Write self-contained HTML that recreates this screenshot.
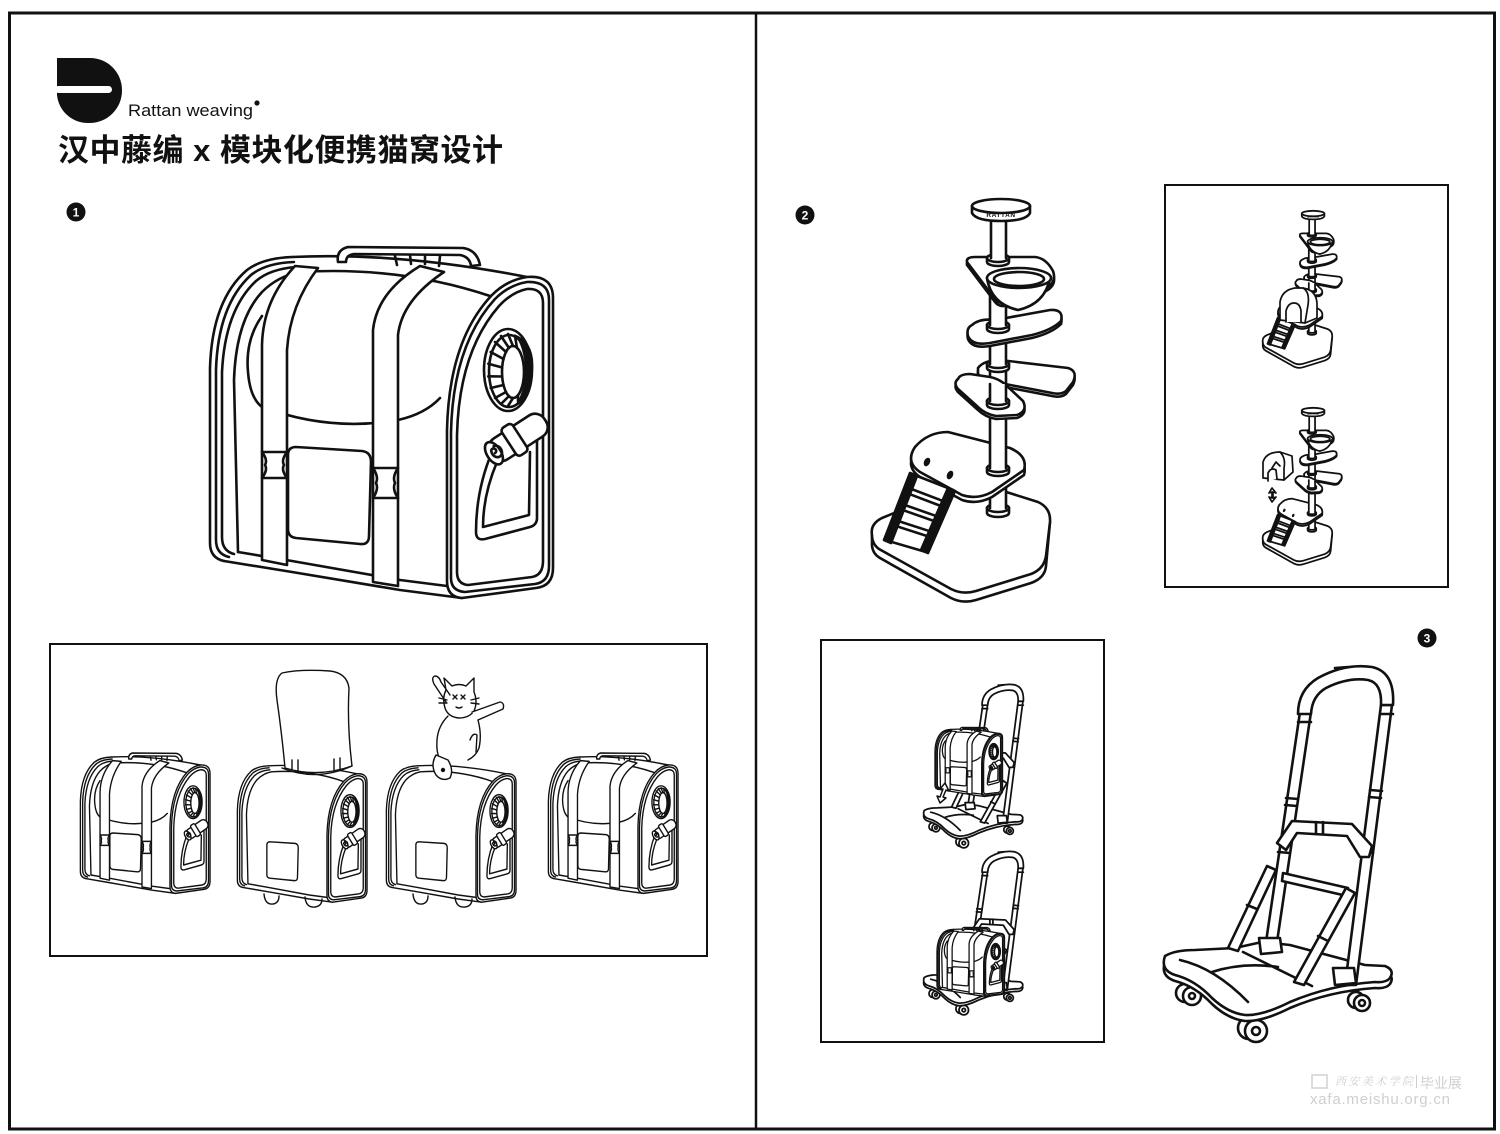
<!DOCTYPE html>
<html><head><meta charset="utf-8"><style>
html,body{margin:0;padding:0;background:#fff;}
svg{display:block;}
</style></head><body>
<svg width="1500" height="1134" viewBox="0 0 1500 1134" xmlns="http://www.w3.org/2000/svg" font-family="'Liberation Sans','Noto Sans CJK SC',sans-serif">
<defs>
<!-- ============ BAG (plain body) ============ -->
<g id="bagPlain" fill="none" stroke="#111" stroke-linejoin="round" stroke-linecap="round">
<path fill="#fff" stroke="none" d="M222,560 Q210,557 210,543 L210,368 Q212,300 247,270 Q263,258 292,257 Q400,253 527,277 Q553,275 553,298 L553,568 Q553,590 536,590 L462,598 Z"/>
<path d="M224,561 Q210,558 210,543 L210,368 Q212,300 247,270 Q263,258 292,257"/>
<path d="M229,557 Q216,554 216,540 L216,370 Q218,305 251,275 Q266,263 294,262"/>
<path d="M234,554 Q222,551 222,537 L222,372 Q225,310 256,281 Q270,269 296,267"/>
<path d="M238,552 L234,380 Q236,320 262,292 Q278,276 300,272"/>
<path d="M224,561 L292,572 L400,590 L462,598"/>
<path d="M238,552 L292,561 L400,580 L447,586"/>
<path d="M292,257 Q400,252 527,277"/>
<path d="M300,272 Q400,266 490,296"/>
<path fill="#fff" d="M462,598 Q447,597 447,581 L447,430 Q449,340 492,295 Q507,280 527,277 Q553,275 553,298 L553,568 Q553,586 536,588 Z"/>
<path d="M465,592 Q451,591 451,578 L451,432 Q453,345 495,299 Q509,285 527,282 Q549,281 549,300 L549,566 Q549,582 535,584 Z"/>
<path d="M468,585 Q457,584 457,572 L457,435 Q459,352 499,306 Q512,292 527,289 Q543,288 543,303 L543,561 Q543,575 532,577 Z"/>
<ellipse cx="508" cy="370" rx="24" ry="41" fill="#fff"/>
<ellipse cx="509" cy="371" rx="20" ry="36"/>
<ellipse cx="513" cy="372" rx="11" ry="26"/>
<path d="M513,398 L508,406 M509,396 L501,404 M506,392 L495,398 M503.5,385 L490.7,388 M502.2,376.5 L488.3,376.3 M502.2,367.5 L488.3,363.7 M503.5,359 L490.7,352 M506,352 L495,342 M509,348 L501,336 M513,346 L508,334 M518,395 L518,401 M517,348 L515,336"/>
<path fill="#111" stroke="none" d="M514,334 Q536,342 533,372 Q531,401 514,407 Q525,392 525,370 Q524,346 514,334 Z"/>
<path d="M492,452 Q476,490 476,532 Q476,541 485,539 L530,527 Q537,525 537,518 L537,440"/>
<path d="M497,462 Q483,495 483,527 L529,515 L530,452"/>
<g transform="rotate(-33 518 437)">
<rect x="486" y="425" width="64" height="25" rx="11" fill="#fff"/>
<ellipse cx="489" cy="437.5" rx="7" ry="12.5" fill="#fff"/>
<path d="M490,438 a2.5,2.5 0 1 0 -2.5,-2.5 a5,6 0 1 0 5,-4"/>
<rect x="507" y="421" width="13" height="33" rx="4" fill="#fff"/>
</g>
<path d="M296,447 L362,451 Q371,452 371,462 L369,536 Q369,545 360,544 L296,538 Q288,537 288,529 L288,455 Q288,447 296,447 Z"/>
</g>
<!-- ============ BAG extras (flap, straps, handle) ============ -->
<g id="bagExtra" fill="none" stroke="#111" stroke-linejoin="round" stroke-linecap="round">
<path fill="#fff" d="M338,262 Q336,250 348,247 L463,248 Q477,250 480,265 L471,266 Q470,257 460,255 L354,254 Q346,255 346,262 Z"/>
<path d="M395,256 L397,265 M410,255 L411,264 M425,255 L425,264 M440,256 L439,266"/>
<path d="M262,316 Q245,340 248,372 Q250,398 262,407 Q330,432 398,420 Q425,414 440,398"/>
<path fill="#fff" d="M262,560 L262,345 Q263,300 295,266 L318,268 Q290,305 287,350 L287,565 Z"/>
<path fill="#fff" d="M373,582 L373,330 Q377,292 420,266 L444,272 Q402,300 398,335 L398,586 Z"/>
<path fill="#fff" d="M262,452 L287,452 Q281,460 284,465 Q281,470 287,478 L262,478 Q268,470 265,465 Q268,460 262,452 Z"/>
<path fill="#fff" d="M373,468 L398,468 Q392,477 395,483 Q392,489 398,498 L373,498 Q379,489 376,483 Q379,477 373,468 Z"/>
</g>
<g id="bagFull"><use href="#bagPlain"/><use href="#bagExtra"/></g>

<!-- ============ CAT TOWER ============ -->
<g id="tower" fill="none" stroke="#111" stroke-linejoin="round" stroke-linecap="round">
<path fill="#fff" d="M872,535 L872,546 Q873,554 880,558 L951,598 Q963,604 976,600 L1031,583 Q1045,578 1046,566 L1050,522 Z"/>
<path fill="#fff" d="M872,535 Q870,524 882,518 L958,487 Q970,482 984,485 L1038,502 Q1051,508 1050,522 L1046,556 Q1044,569 1031,574 L976,591 Q963,595 951,589 L879,549 Q872,544 872,535 Z"/>
<path fill="#fff" d="M987,508 v5 a11,4 0 0 0 22,0 v-5 z"/>
<ellipse cx="998" cy="508" rx="11" ry="4" fill="#fff"/>
<rect x="990" y="466" width="16" height="42" fill="#fff" stroke="none"/>
<path d="M990,508 V466 M1006,508 V466"/>
<path fill="#fff" transform="translate(0,5)" d="M915,447 Q928,432 948,432 L1010,448 Q1028,456 1024,470 L992,492 Q977,500 962,495 L920,472 Q905,462 915,447 Z"/>
<path fill="#fff" d="M915,447 Q928,432 948,432 L1010,448 Q1028,456 1024,470 L992,492 Q977,500 962,495 L920,472 Q905,462 915,447 Z"/>
<ellipse fill="#111" stroke="none" cx="927" cy="462" rx="3" ry="4.5" transform="rotate(25 927 462)"/>
<ellipse fill="#111" stroke="none" cx="950" cy="475" rx="3" ry="4.5" transform="rotate(25 950 475)"/>
<path fill="#fff" d="M987,468 v4 a11,4 0 0 0 22,0 v-4 z"/>
<ellipse cx="998" cy="468" rx="11" ry="4" fill="#fff"/>
<rect x="990" y="403" width="16" height="65" fill="#fff" stroke="none"/>
<path d="M990,468 V403 M1006,468 V403"/>
<!-- ladder -->
<path fill="#fff" d="M912,474 L953,490 L926,552 L885,540 Z"/>
<path fill="#fff" d="M910.1,488.5 L945.1,501.8 L943.5,507 L908.5,493.7 Z"/>
<path fill="#fff" d="M903.4,504.5 L938.4,516.8 L936.8,522 L901.8,509.7 Z"/>
<path fill="#fff" d="M896.6,520.5 L931.6,531.8 L930,537 L895,525.7 Z"/>
<path fill="#111" d="M910,473 L917,476 L891,543 L884,540 Z"/>
<path fill="#111" d="M948,488 L955,491 L928,553 L921,550 Z"/>
<!-- wing + lower piece -->
<path fill="#fff" transform="translate(0,3)" d="M978,368 Q984,360 1000,360 L1068,368 Q1078,371 1073,382 L1066,391 Q1061,395 1052,393 L1000,383 Q983,380 978,374 Z"/>
<path fill="#fff" d="M978,368 Q984,360 1000,360 L1068,368 Q1078,371 1073,382 L1066,391 Q1061,395 1052,393 L1000,383 Q983,380 978,374 Z"/>
<rect x="990" y="364" width="16" height="20" fill="#fff" stroke="none"/>
<path d="M990,384 V364 M1006,384 V364"/>
<path fill="#fff" d="M987,364 v4 a11,4 0 0 0 22,0 v-4 z"/>
<ellipse cx="998" cy="364" rx="11" ry="4" fill="#fff"/>
<path fill="#fff" transform="translate(0,3)" d="M958,379 Q960,374 970,374 L990,377 Q1000,379 1007,386 L1023,401 Q1028,411 1017,415 L996,416 Q985,414 978,407 L958,389 Q953,383 958,379 Z"/>
<path fill="#fff" d="M958,379 Q960,374 970,374 L990,377 Q1000,379 1007,386 L1023,401 Q1028,411 1017,415 L996,416 Q985,414 978,407 L958,389 Q953,383 958,379 Z"/>
<path fill="#fff" d="M987,401 v4 a11,4 0 0 0 22,0 v-4 z"/>
<ellipse cx="998" cy="401" rx="11" ry="4" fill="#fff"/>
<rect x="990" y="384" width="16" height="17" fill="#fff" stroke="none"/>
<path d="M990,401 V384 M1006,401 V384"/>
<rect x="990" y="326" width="16" height="38" fill="#fff" stroke="none"/>
<path d="M990,364 V326 M1006,364 V326"/>
<!-- platform 2 -->
<path fill="#fff" transform="translate(0,3)" d="M972,325 Q980,318 995,320 L1050,310 Q1064,309 1061,321 Q1052,330 1032,335 L990,343 Q972,346 968,336 Q966,328 972,325 Z"/>
<path fill="#fff" d="M972,325 Q980,318 995,320 L1050,310 Q1064,309 1061,321 Q1052,330 1032,335 L990,343 Q972,346 968,336 Q966,328 972,325 Z"/>
<path fill="#fff" d="M987,325 v4 a11,4 0 0 0 22,0 v-4 z"/>
<ellipse cx="998" cy="325" rx="11" ry="4" fill="#fff"/>
<rect x="990" y="260" width="16" height="65" fill="#fff" stroke="none"/>
<path d="M990,325 V260 M1006,325 V260"/>
<!-- bowl platform -->
<path fill="#fff" transform="translate(0,3)" d="M967,262 Q966,257 975,257 L1035,257 Q1046,258 1053,271 Q1057,282 1046,288 L1008,302 Q1000,305 995,299 Z"/>
<path fill="#fff" d="M967,262 Q966,257 975,257 L1035,257 Q1046,258 1053,271 Q1057,282 1046,288 L1008,302 Q1000,305 995,299 Z"/>
<path fill="#fff" d="M987,258 v4 a11,4 0 0 0 22,0 v-4 z"/>
<ellipse cx="998" cy="258" rx="11" ry="4" fill="#fff"/>
<path fill="#fff" d="M987,278 Q991,304 1018,310 Q1045,304 1050,278 Z"/>
<ellipse cx="1019" cy="278" rx="32" ry="10" fill="#fff"/>
<ellipse cx="1019" cy="279" rx="25" ry="7"/>
<rect x="991" y="214" width="15" height="44" fill="#fff" stroke="none"/>
<path d="M991,258 V214 M1006,258 V214"/>
<!-- top disk -->
<path fill="#fff" d="M972,206 L972,213 Q976,221 1001,221 Q1026,221 1030,213 L1030,206 Z"/>
<ellipse cx="1001" cy="206" rx="29" ry="7" fill="#fff"/>
<text x="1001" y="217" font-size="6.5" font-weight="bold" fill="#111" stroke="none" text-anchor="middle" letter-spacing="0.6">RATTAN</text>
</g>

<!-- ============ TROLLEY ============ -->
<g id="trolley" fill="none" stroke="#111" stroke-linejoin="round" stroke-linecap="round">
<path d="M1188,978 L1188,988 M1252,1008 L1252,1020 M1358,988 L1358,995"/>
<g fill="#fff">
<circle cx="1185" cy="993" r="9"/><circle cx="1192" cy="996" r="9"/><circle cx="1192" cy="996" r="3"/>
<circle cx="1249" cy="1028" r="11"/><circle cx="1256" cy="1031" r="11"/><circle cx="1256" cy="1031" r="4"/>
<circle cx="1356" cy="1000" r="8"/><circle cx="1362" cy="1003" r="8"/><circle cx="1362" cy="1003" r="3"/>
</g>
<path fill="#fff" transform="translate(0,6)" d="M1165,956 Q1175,950 1195,950 L1235,948 L1262,942 L1290,945 L1365,965 L1385,966 Q1395,970 1390,978 Q1386,983 1375,982 Q1330,985 1290,1002 Q1262,1016 1245,1015 Q1228,1013 1212,998 Q1195,980 1175,975 Q1160,970 1165,956 Z"/>
<path fill="#fff" d="M1165,956 Q1175,950 1195,950 L1235,948 L1262,942 L1290,945 L1365,965 L1385,966 Q1395,970 1390,978 Q1386,983 1375,982 Q1330,985 1290,1002 Q1262,1016 1245,1015 Q1228,1013 1212,998 Q1195,980 1175,975 Q1160,970 1165,956 Z"/>
<path d="M1180,960 Q1215,968 1248,1002 M1212,972 Q1243,962 1278,967 M1243,952 L1312,986"/>
<!-- uprights -->
<path fill="#fff" d="M1300,712 L1311,712 L1277,942 L1266,942 Z"/>
<path fill="#fff" d="M1381,705 L1392,705 L1356,985 L1345,985 Z"/>
<path d="M1286,798 L1298,799 M1285,805 L1297,806 M1370,790 L1382,791 M1369,797 L1381,798 M1278,852 L1290,853 M1361,852 L1373,853"/>
<path fill="#fff" d="M1298,714 Q1298,690 1318,678 Q1345,663 1372,667 Q1395,672 1393,705 L1381,705 Q1382,683 1368,680 Q1348,677 1326,688 Q1312,696 1311,714 Z"/>
<path d="M1298,722 L1311,722 M1381,714 L1393,714 M1335,668 L1348,667"/>
<!-- crossbars -->
<path fill="#fff" d="M1277,843 L1292,821 L1352,824 L1372,846 L1369,857 L1360,857 L1347,836 L1297,833 L1286,850 Z"/>
<path d="M1316,822 L1316,834 M1323,822 L1323,834"/>
<path fill="#fff" d="M1283,873 L1348,888 L1347,896 L1282,881 Z"/>
<!-- braces -->
<path fill="#fff" d="M1228,948 L1267,866 L1276,870 L1238,951 Z"/>
<path d="M1247,905 L1257,909"/>
<path fill="#fff" d="M1294,982 L1346,888 L1355,893 L1304,985 Z"/>
<path d="M1318,936 L1328,941"/>
<!-- feet -->
<path fill="#fff" d="M1259,938 L1280,938 L1282,952 L1261,954 Z"/>
<path fill="#fff" d="M1333,968 L1354,968 L1356,983 L1335,985 Z"/>
</g>
</defs>

<!-- ============ FRAME ============ -->
<rect x="9.5" y="13" width="1485" height="1116" fill="none" stroke="#111" stroke-width="3"/>
<line x1="756" y1="13" x2="756" y2="1129" stroke="#111" stroke-width="2.5"/>

<!-- ============ LOGO & TITLE ============ -->
<path fill="#111" d="M57,58 H90 A32,32 0 0 1 122,90 A32.5,32.5 0 0 1 88,123 A31,31 0 0 1 57,95 Z"/>
<rect x="55" y="86" width="57" height="7" rx="3.5" fill="#fff"/>
<text x="128" y="116" font-size="17" fill="#111" textLength="125" lengthAdjust="spacingAndGlyphs">Rattan weaving</text>
<circle cx="257" cy="103" r="2.6" fill="#111"/>
<text x="58" y="161" font-size="31" font-weight="bold" fill="#111" textLength="445" lengthAdjust="spacing">汉中藤编 x 模块化便携猫窝设计</text>

<!-- badges -->
<circle cx="76" cy="212" r="9.5" fill="#111"/><text x="76" y="216.5" font-size="12" font-weight="bold" fill="#fff" text-anchor="middle">1</text>
<circle cx="805" cy="215" r="9.5" fill="#111"/><text x="805" y="219.5" font-size="12" font-weight="bold" fill="#fff" text-anchor="middle">2</text>
<circle cx="1427" cy="638" r="9.5" fill="#111"/><text x="1427" y="642.5" font-size="12" font-weight="bold" fill="#fff" text-anchor="middle">3</text>

<!-- ============ BIG BAG ============ -->
<use href="#bagFull" stroke-width="2.6"/>

<!-- ============ BOTTOM LEFT BOX ============ -->
<rect x="50" y="644" width="657" height="312" fill="none" stroke="#111" stroke-width="2"/>
<use href="#bagFull" transform="translate(1,654.2) scale(0.378,0.4)" stroke-width="3.6"/>
<use href="#bagFull" transform="translate(469,654.2) scale(0.378,0.4)" stroke-width="3.6"/>
<use href="#bagPlain" transform="translate(158,663) scale(0.378,0.4)" stroke-width="3.6"/>
<use href="#bagPlain" transform="translate(307,663) scale(0.378,0.4)" stroke-width="3.6"/>
<g fill="none" stroke="#111" stroke-width="1.4" stroke-linecap="round" stroke-linejoin="round">
<path d="M264,894 Q265,905 273,904 Q279,903 279,896 M305,897 Q306,908 315,907 Q322,906 322,899"/>
<path d="M413,894 Q414,905 422,904 Q428,903 428,896 M455,897 Q456,908 465,907 Q472,906 472,899"/>
<!-- flap open on bag 2 -->
<path fill="#fff" d="M285,768 Q282,735 277,700 Q274,679 282,673 Q300,669 330,671 Q347,673 349,688 Q347,725 352,766 Q318,778 285,768 Z"/>
<path d="M282,768 Q316,782 352,766"/>
<path d="M292,760 L292,770 M298,760 L298,771 M334,759 L334,770 M340,758 L340,769"/>
<!-- cat on bag 3 -->
<path fill="#fff" d="M448,716 Q438,726 437,740 Q436,752 440,760 L468,760 Q476,756 479,748 Q482,735 478,720 Z" stroke="none"/>
<path fill="#fff" d="M446,690 L444,678 L452,686 Q459,683 466,686 L474,678 L474,692 Q478,702 474,711 Q469,718 459,718 Q448,717 445,708 Q442,698 446,690 Z"/>
<path d="M446,702 L434,684 Q431,677 435,676 Q439,676 441,682 L450,695"/>
<path fill="#fff" d="M472,712 L500,702 Q505,703 503,709 L478,720"/>
<path d="M448,716 Q438,726 437,740 Q436,752 440,760 M478,720 Q482,735 479,748 Q476,756 468,760"/>
<path d="M470,740 Q473,732 477,735 L476,752"/>
<path fill="#fff" d="M436,755 Q430,765 436,775 Q442,782 450,778 Q454,770 448,760 Z"/>
<path d="M453,695 L457,699 M457,695 L453,699 M461,695 L465,699 M465,695 L461,699 M456,707 Q459,709 462,707 M439,698 L447,700 M439,703 L447,703 M471,700 L479,698 M471,703 L479,704"/>
<circle cx="443" cy="770" r="1.5" fill="#111"/>
</g>

<!-- ============ BIG TOWER ============ -->
<use href="#tower" stroke-width="2.6"/>

<!-- ============ TOP RIGHT BOX (mini towers) ============ -->
<rect x="1165" y="185" width="283" height="402" fill="none" stroke="#111" stroke-width="2"/>
<use href="#tower" transform="translate(922.7,133.2) scale(0.39)" stroke-width="4.5"/>
<use href="#tower" transform="translate(922.7,330.2) scale(0.39)" stroke-width="4.5"/>
<g fill="#fff" stroke="#111" stroke-width="1.7" stroke-linejoin="round" stroke-linecap="round">
<path d="M1280,320 L1280,302 Q1282,290 1295,288 L1303,288 Q1316,290 1317,303 L1317,318 L1305,323 Z"/>
<path d="M1303,288 Q1310,292 1308,305 L1305,323" fill="none"/>
<path d="M1286,322 L1286,311 Q1288,303 1294,303 Q1300,303 1301,311 L1301,322" fill="#fff"/>
<path d="M1263,478 L1263,462 Q1266,452 1280,452 L1292,456 L1293,472 L1284,480 Z"/>
<path d="M1280,452 Q1286,458 1284,468 L1284,480" fill="none"/>
<path d="M1268,481 L1268,473 Q1271,467 1276,470 L1277,479" fill="#fff"/>
<path d="M1272,468 L1276,462 L1280,466" fill="none"/>
<path d="M1272,488 L1269,493 L1272,492 L1272,498 L1269,497 L1272,502 L1276,497 L1273,498 L1273,492 L1276,493 Z"/>
</g>

<!-- ============ BOTTOM MIDDLE BOX (mini trolleys) ============ -->
<rect x="821" y="640" width="283" height="402" fill="none" stroke="#111" stroke-width="2"/>
<use href="#trolley" transform="translate(417.4,394.6) scale(0.435)" stroke-width="4"/>
<use href="#trolley" transform="translate(417.4,561.6) scale(0.435)" stroke-width="4"/>
<use href="#bagFull" transform="translate(893.6,678.7) scale(0.197)" stroke-width="6.5"/>
<use href="#bagFull" transform="translate(895.6,878.7) scale(0.197)" stroke-width="6.5"/>
<path d="M945,783 L940,789 L943,789 L940,797 L937,796 L940,803 L946,798 L943,797 L946,790 L949,791 Z" fill="#fff" stroke="#111" stroke-width="1.5" stroke-linejoin="round"/>

<!-- ============ BIG TROLLEY ============ -->
<use href="#trolley" stroke-width="2.6"/>

<!-- ============ WATERMARK ============ -->
<g fill="#cfcfcf" stroke="none">
<rect x="1312" y="1075" width="15" height="13" fill="none" stroke="#d2d2d2" stroke-width="1.5"/>
<text x="1335" y="1085" font-size="11" font-family="'Noto Serif CJK SC','Liberation Serif',serif" font-style="italic" textLength="78">西安美术学院</text>
<rect x="1416" y="1075" width="1" height="13"/>
<text x="1420" y="1088" font-size="14" font-family="'Liberation Sans','Noto Sans CJK SC',sans-serif">毕业展</text>
<text x="1310" y="1104" font-size="15" font-family="'Liberation Sans',sans-serif" textLength="140">xafa.meishu.org.cn</text>
</g>
</svg>
</body></html>
